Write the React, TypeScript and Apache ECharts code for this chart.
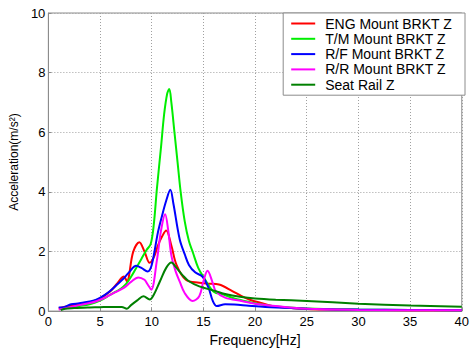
import React, { useEffect, useRef } from "react";
import * as echarts from "echarts";

const seriesNames = [
  "ENG Mount BRKT Z",
  "T/M Mount BRKT Z",
  "R/F Mount BRKT Z",
  "R/R Mount BRKT Z",
  "Seat Rail Z",
];
const seriesColors = ["#ff0000", "#00ee00", "#0000ff", "#ff00ff", "#008000"];

const engFreq = [1.0, 2.0, 3.0, 4.0, 5.0, 6.0, 6.6, 7.1, 7.3, 7.6, 8.2, 8.8, 9.3, 9.8, 10.2, 10.6, 11.0, 11.4, 11.9, 12.4, 13.3, 14.6, 15.5, 16.5, 17.8, 18.7, 19.5, 20.5, 22, 24, 27, 30, 35, 40];
const engAcc = [0.1, 0.17, 0.24, 0.3, 0.43, 0.67, 0.9, 1.12, 1.16, 1.0, 1.98, 2.31, 2.0, 1.62, 1.8, 2.2, 2.5, 2.7, 2.2, 1.55, 1.05, 0.95, 0.92, 0.89, 0.67, 0.5, 0.38, 0.28, 0.15, 0.09, 0.05, 0.04, 0.03, 0.03];

const tmFreq = [1.2, 2, 3, 4, 5, 6, 7, 7.5, 8, 8.5, 9, 9.5, 9.9, 10.2, 10.5, 10.9, 11.2, 11.5, 11.7, 11.9, 12.2, 12.5, 12.8, 13.2, 13.6, 14.0, 14.5, 15.0, 16, 17, 18, 19.5, 21, 23, 25, 30, 35, 40];
const tmAcc = [0.08, 0.12, 0.17, 0.23, 0.35, 0.55, 0.75, 0.9, 1.15, 1.45, 1.75, 2.05, 2.25, 2.9, 4.1, 5.5, 6.6, 7.3, 7.45, 7.0, 6.0, 5.0, 4.0, 3.0, 2.35, 1.95, 1.45, 1.15, 0.65, 0.55, 0.42, 0.3, 0.2, 0.13, 0.09, 0.05, 0.04, 0.03];

const rfFreq = [1.0, 1.5, 2.2, 3, 4, 4.7, 5.5, 6, 6.65, 7.3, 7.8, 8.5, 9.0, 9.6, 10.0, 10.6, 11.0, 11.4, 11.8, 12.1, 12.7, 13.2, 13.6, 14.2, 14.9, 15.5, 15.9, 16.3, 17.1, 18, 19.4, 21, 23.5, 26, 30, 35, 40];
const rfAcc = [0.12, 0.13, 0.23, 0.26, 0.32, 0.39, 0.55, 0.68, 0.89, 1.1, 1.3, 1.52, 1.45, 1.33, 1.55, 2.64, 3.2, 3.7, 4.07, 3.6, 2.42, 1.9, 1.55, 1.3, 1.16, 0.78, 0.35, 0.17, 0.23, 0.22, 0.18, 0.14, 0.1, 0.07, 0.05, 0.04, 0.03];

const rrFreq = [1.0, 2, 3, 4, 4.7, 5.5, 6.3, 7.3, 8.0, 8.7, 9.3, 9.6, 9.95, 10.5, 10.9, 11.3, 11.6, 11.9, 12.3, 12.7, 13.2, 13.95, 14.6, 15.0, 15.4, 15.9, 16.2, 17.1, 18.7, 20, 22, 25, 30, 35, 40];
const rrAcc = [0.05, 0.12, 0.2, 0.27, 0.34, 0.45, 0.6, 0.78, 0.98, 1.13, 1.05, 0.9, 0.72, 1.7, 2.7, 3.25, 2.7, 1.87, 1.35, 1.0, 0.6, 0.34, 0.5, 1.0, 1.35, 0.95, 0.67, 0.45, 0.34, 0.25, 0.17, 0.08, 0.04, 0.03, 0.03];

const seatFreq = [1.2, 1.6, 2.5, 4, 5, 6, 7.1, 7.6, 8.0, 8.6, 9.2, 9.8, 10.2, 10.8, 11.4, 11.9, 12.4, 13.0, 13.6, 14.6, 16.2, 17, 18.7, 20, 22, 25, 30, 35, 40];
const seatAcc = [0.03, 0.08, 0.1, 0.12, 0.13, 0.14, 0.14, 0.08, 0.2, 0.36, 0.5, 0.39, 0.55, 1.0, 1.45, 1.63, 1.45, 1.2, 1.0, 0.83, 0.67, 0.58, 0.47, 0.42, 0.38, 0.34, 0.25, 0.19, 0.15];

const allFreq = [engFreq, tmFreq, rfFreq, rrFreq, seatFreq];
const allAcc = [engAcc, tmAcc, rfAcc, rrAcc, seatAcc];

const FONT = "'Liberation Sans', Arial, sans-serif";

export default function App() {
  const ref = useRef<HTMLDivElement>(null);
  useEffect(() => {
    if (!ref.current) return;
    const chart = echarts.init(ref.current, undefined, { renderer: "svg" });
    chart.setOption({
      animation: false,
      backgroundColor: "#ffffff",
      grid: {
        left: 43,
        right: 8,
        top: 13,
        bottom: 35,
        show: true,
        borderColor: "#8c8c8c",
        borderWidth: 1,
        backgroundColor: "#ffffff",
      },
      legend: {
        data: seriesNames,
        orient: "vertical",
        right: 7,
        top: 13,
        backgroundColor: "#ffffff",
        borderColor: "#8c8c8c",
        borderWidth: 1,
        borderRadius: 0,
        padding: [3, 13, 3, 8],
        icon: "rect",
        itemWidth: 24,
        itemHeight: 2,
        itemGap: 0.3,
        textStyle: {
          fontFamily: FONT,
          fontSize: 14,
          color: "#000",
          lineHeight: 15,
          padding: [0, 0, 0, 5],
        },
      },
      xAxis: {
        type: "value",
        min: 0,
        max: 40,
        interval: 5,
        name: "Frequency[Hz]",
        nameLocation: "middle",
        nameGap: 16,
        nameTextStyle: { fontFamily: FONT, fontSize: 14, color: "#000" },
        axisLine: { lineStyle: { color: "#8c8c8c" } },
        axisTick: { inside: true, length: 3, lineStyle: { color: "#8c8c8c" } },
        axisLabel: { fontFamily: FONT, fontSize: 13, color: "#000", margin: 4 },
        splitLine: { show: true, lineStyle: { color: "#a0a0a0", type: [1, 2], width: 1 } },
      },
      yAxis: {
        type: "value",
        min: 0,
        max: 10,
        interval: 2,
        name: "Acceleration(m/s²)",
        nameLocation: "middle",
        nameGap: 26,
        nameTextStyle: { fontFamily: FONT, fontSize: 12, color: "#000" },
        axisLine: { show: true, lineStyle: { color: "#8c8c8c" } },
        axisTick: { show: true, inside: true, length: 3, lineStyle: { color: "#8c8c8c" } },
        axisLabel: { fontFamily: FONT, fontSize: 13, color: "#000", margin: 3 },
        splitLine: { show: true, lineStyle: { color: "#a0a0a0", type: [1, 2], width: 1 } },
      },
      series: seriesNames.map((name, i) => ({
        name,
        type: "line",
        data: allFreq[i].map((f, j) => [f, allAcc[i][j]]),
        showSymbol: false,
        symbol: "none",
        smooth: 0.35,
        lineStyle: { color: seriesColors[i], width: 2 },
        itemStyle: { color: seriesColors[i] },
      })),
    });
    return () => chart.dispose();
  }, []);
  return (
    <div
      ref={ref}
      style={{ position: "absolute", left: 0, top: 0, width: 472, height: 352 }}
    />
  );
}
